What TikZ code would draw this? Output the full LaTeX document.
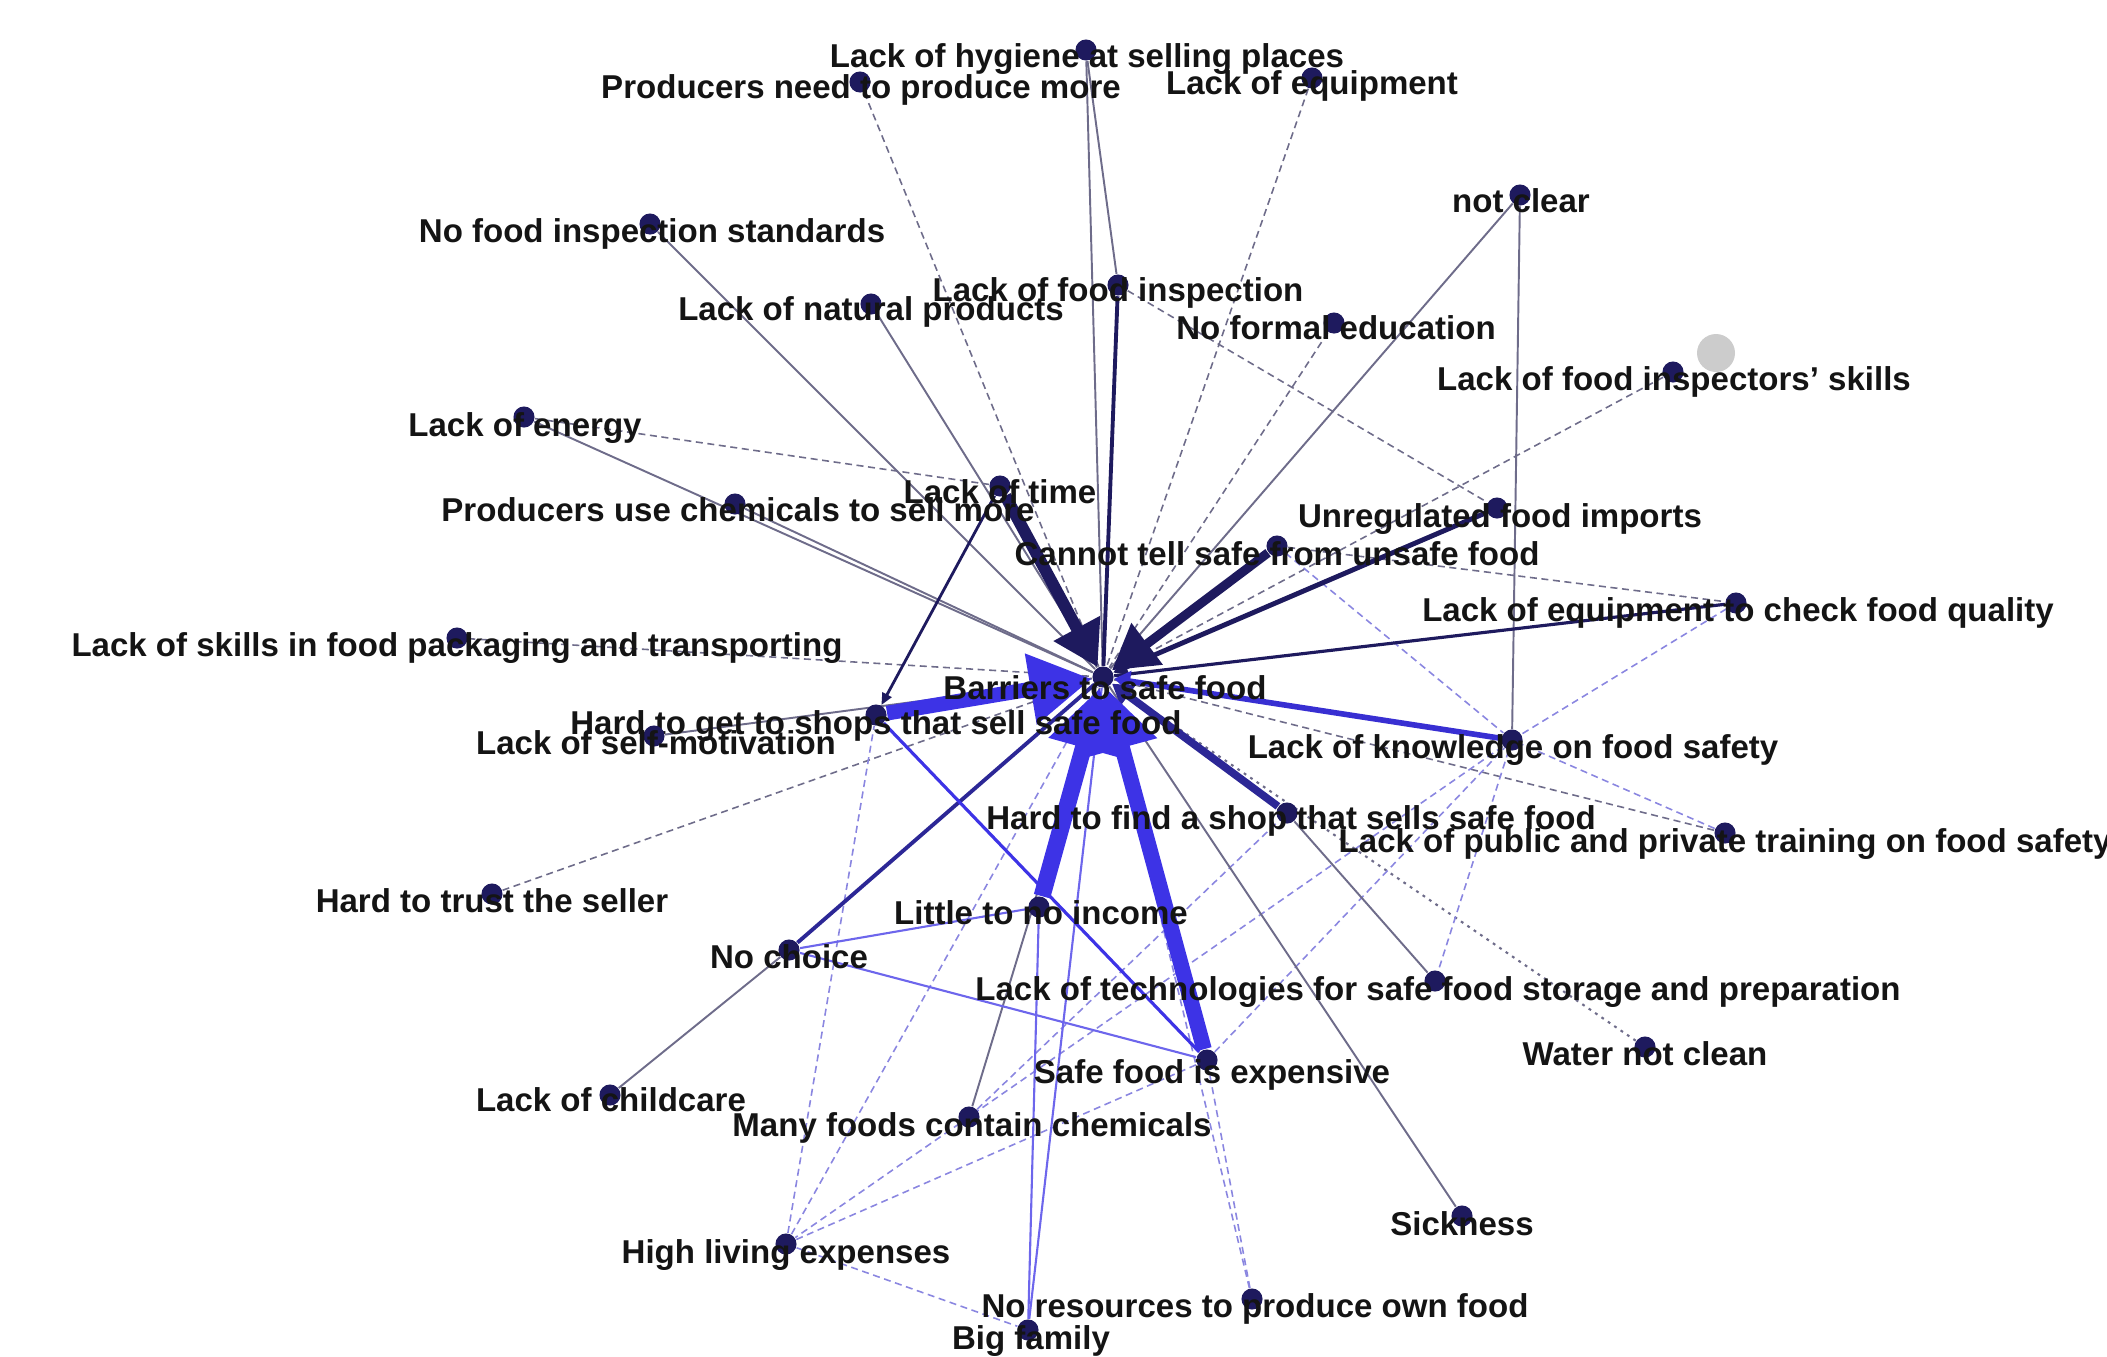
\documentclass[tikz,border=0pt]{standalone}
\usepackage{fontspec}
\setmainfont{Liberation Sans}
\usetikzlibrary{arrows.meta,backgrounds}
\definecolor{navy}{HTML}{1E1A5E}
\definecolor{blueedge}{HTML}{3D33E6}
\definecolor{midedge}{HTML}{2C2796}
\definecolor{faintedge}{HTML}{8A86E0}
\definecolor{greyedge}{HTML}{6E6C8A}
\begin{document}
\begin{tikzpicture}[
  dot/.style={circle,fill=navy,inner sep=0pt,minimum size=6pt},
  lbl/.style={font=\fontsize{9.4}{11}\selectfont\bfseries,text=black!92,inner sep=0pt},
  faint/.style={draw=faintedge,line width=0.45pt,dash pattern=on 2pt off 1.3pt},
  dashgrey/.style={draw=greyedge,line width=0.45pt,dash pattern=on 2pt off 1.3pt},
  dotgrey/.style={draw=greyedge,line width=0.6pt,dash pattern=on 0.8pt off 1.4pt},
  thin/.style={draw=greyedge,line width=0.55pt},
  thinblue/.style={draw=blueedge!75,line width=0.6pt},
  heavy/.style={draw=navy,line width=3.4pt,-{Triangle[length=0.44cm,width=0.5cm]}},
  heavyblue/.style={draw=blueedge,line width=4.6pt,-{Triangle[length=0.62cm,width=0.68cm]}}
]
\useasboundingbox (0,0) rectangle (21.07,-13.56);
\clip (0,0) rectangle (21.07,-13.56);

% factors: dot, then its label
\foreach \n/\x/\y/\lx/\ly/\a/\t in {
  bar/11.03/-6.77/11.05/-6.88/center/Barriers to safe food,
  hyg/10.86/-0.50/10.87/-0.59/center/Lack of hygiene at selling places,
  pneed/8.60/-0.82/8.61/-0.90/center/Producers need to produce more,
  equip/13.12/-0.78/13.12/-0.86/center/Lack of equipment,
  nclear/15.20/-1.95/15.21/-2.01/center/not clear,
  nstd/6.50/-2.24/6.52/-2.34/center/No food inspection standards,
  insp/11.18/-2.85/11.18/-2.93/center/Lack of food inspection,
  natp/8.71/-3.04/8.71/-3.12/center/Lack of natural products,
  educ/13.34/-3.23/13.36/-3.28/center/No formal education,
  iskill/16.73/-3.72/16.74/-3.82/center/Lack of food inspectors' skills,
  energy/5.24/-4.17/5.25/-4.28/center/Lack of energy,
  time/10.00/-4.86/10.00/-4.92/center/Lack of time,
  pchem/7.35/-5.04/7.38/-5.10/center/Producers use chemicals to sell more,
  unreg/14.97/-5.08/15.00/-5.19/center/Unregulated food imports,
  ctell/12.77/-5.46/12.77/-5.54/center/Cannot tell safe from unsafe food,
  echeck/17.36/-6.03/17.38/-6.13/center/Lack of equipment to check food quality,
  skills/4.57/-6.38/4.57/-6.48/center/Lack of skills in food packaging and transporting,
  hget/8.76/-7.15/8.76/-7.26/center/Hard to get to shops that sell safe food,
  selfm/6.54/-7.36/6.56/-7.43/center/Lack of self-motivation,
  know/15.12/-7.40/15.13/-7.50/center/Lack of knowledge on food safety,
  hfind/12.87/-8.13/12.91/-8.21/center/Hard to find a shop that sells safe food,
  train/17.25/-8.33/13.38/-8.44/west/Lack of public and private training on food safety,
  trust/4.92/-8.94/4.92/-9.01/center/Hard to trust the seller,
  income/10.39/-9.07/10.41/-9.13/center/Little to no income,
  nchoice/7.89/-9.50/7.89/-9.57/center/No choice,
  tech/14.35/-9.81/14.38/-9.92/center/Lack of technologies for safe food storage and preparation,
  water/16.45/-10.47/16.45/-10.54/center/Water not clean,
  expens/12.07/-10.60/12.12/-10.75/center/Safe food is expensive,
  child/6.10/-10.95/6.11/-11.00/center/Lack of childcare,
  mchem/9.69/-11.17/9.72/-11.28/center/Many foods contain chemicals,
  sick/14.62/-12.16/14.62/-12.24/center/Sickness,
  living/7.86/-12.44/7.86/-12.55/center/High living expenses,
  nres/12.52/-12.99/12.55/-13.09/center/No resources to produce own food,
  family/10.28/-13.30/10.31/-13.41/center/Big family}
{
  \node[dot] (\n) at (\x,\y) {};
  \node[lbl,anchor=\a] (\n-t) at (\lx,\ly) {\t};
}
\node[circle,fill=black!20,inner sep=0pt,minimum size=0.38cm] (grey) at (17.16,-3.53) {};

\begin{pgfonlayer}{background}
  % weak ties
  \foreach \a/\b in {pneed/bar,equip/bar,educ/bar,skills/bar,trust/bar,insp/unreg,
      ctell/echeck,energy/time,iskill/bar,train/bar}
    \draw[dashgrey] (\a) -- (\b);
  \draw[dotgrey] (water) -- (bar);
  \foreach \a/\b in {ctell/know,echeck/know,know/tech,train/know,know/living,living/hget,
      living/bar,living/expens,living/family,nres/bar,nres/expens,expens/know,mchem/hfind}
    \draw[faint] (\a) -- (\b);
  \foreach \a/\b in {nclear/bar,natp/bar,nstd/bar,hyg/bar,hyg/insp,energy/bar,pchem/bar,
      selfm/bar,sick/bar,nclear/know,hfind/tech,child/nchoice,mchem/bar}
    \draw[thin] (\a) -- (\b);
  \foreach \a/\b in {family/bar,family/income,nchoice/expens,nchoice/income}
    \draw[thinblue] (\a) -- (\b);
  % medium ties
  \draw[navy,line width=0.9pt] (echeck) -- (bar);
  \draw[navy,line width=1.1pt] (insp) -- (bar);
  \draw[midedge,line width=1.1pt] (nchoice) -- (bar);
  \draw[blueedge,line width=0.9pt] (hget) -- (expens);
  \draw[navy,line width=0.8pt,-{Triangle[length=0.12cm,width=0.1cm]}] (time) -- (hget);
  \draw[navy,line width=1.4pt,-{Triangle[length=0.14cm,width=0.16cm]}] (unreg) -- (bar);
  \draw[blueedge!85!navy,line width=1.6pt,-{Triangle[length=0.16cm,width=0.2cm]}] (know) -- (bar);
  \draw[midedge,line width=2.2pt,-{Triangle[length=0.2cm,width=0.24cm]}] (hfind) -- (bar);
  % strong ties
  \draw[heavy] (time) -- (bar);
  \draw[heavy,line width=2.6pt] (ctell) -- (bar);
  \draw[heavyblue,line width=4.2pt] (hget) -- (bar);
  \draw[heavyblue,line width=4.8pt] (income) -- (bar);
  \draw[heavyblue,line width=4.4pt] (expens) -- (bar);
\end{pgfonlayer}
\end{tikzpicture}
\end{document}
